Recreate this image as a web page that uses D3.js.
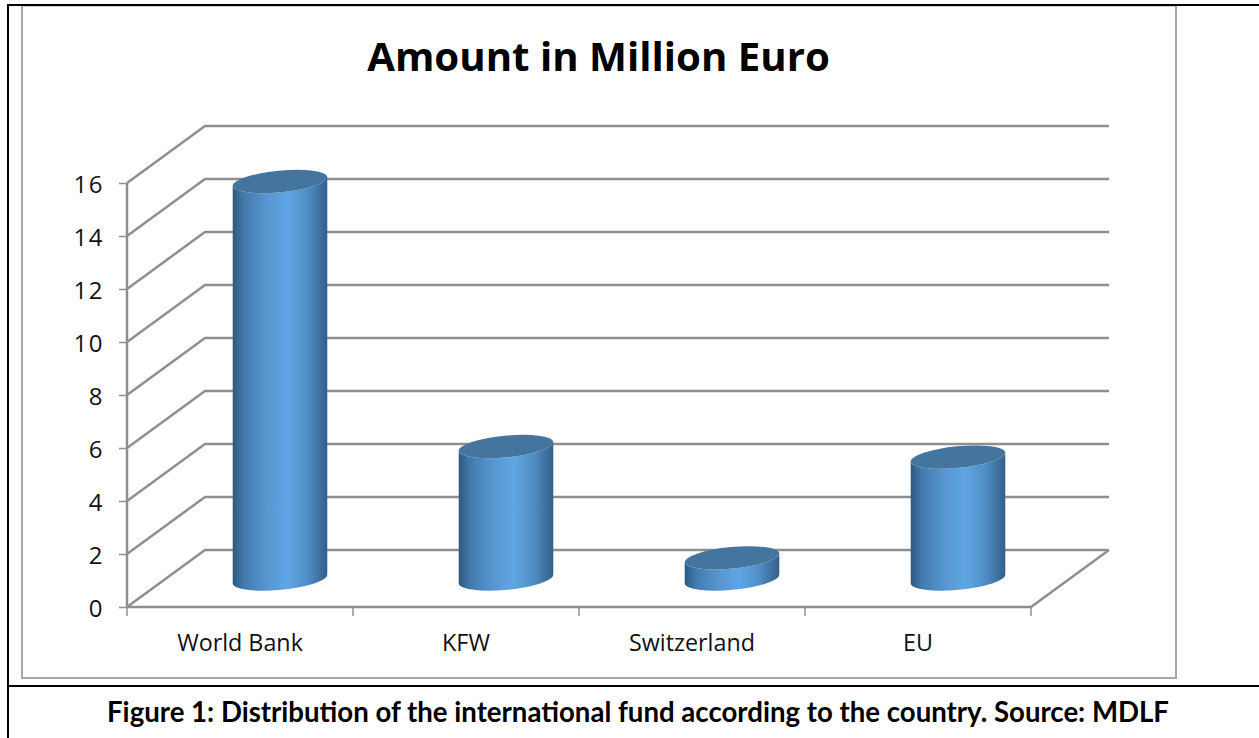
<!DOCTYPE html>
<html>
<head>
<meta charset="utf-8">
<script src="https://cdn.jsdelivr.net/npm/d3@7/dist/d3.min.js"></script>
<style>
html,body{margin:0;padding:0;background:#fff}
svg{display:block}
</style>
</head>
<body>
<svg id="chart" width="1259" height="738"></svg>
<script>
const categories = ["World Bank", "KFW", "Switzerland", "EU"];
const amounts = [15, 5, 0.8, 4.6];
const tickValues = [0, 2, 4, 6, 8, 10, 12, 14, 16];
const chartTitle = "Amount in Million Euro";
const caption = "Figure 1: Distribution of the international fund according to the country. Source: MDLF";

const svg = d3.select("#chart");
const y = d3.scaleLinear().domain([0, 16]).range([607, 183]);
const x = d3.scaleBand().domain(categories).range([127, 1031]);

// Oblique projection of the 3D box: the back wall sits up and to the right.
const depthX = 78, depthY = -57;
const gridColor = "#8f8f8f";

const defs = svg.append("defs");
const grad = defs.append("linearGradient").attr("id", "cyl").attr("x1", 0).attr("x2", 1).attr("y1", 0).attr("y2", 0);
[[0, "#2f5880"], [0.12, "#427bae"], [0.35, "#5795d0"], [0.58, "#5fa6e4"], [0.8, "#4f8cc4"], [1, "#335f87"]]
  .forEach(([o, c]) => grad.append("stop").attr("offset", o).attr("stop-color", c));

// Document table rules and the chart's frame
svg.append("rect").attr("x", 22).attr("y", 5.5).attr("width", 1154).attr("height", 672.5)
  .attr("fill", "#fff").attr("stroke", "#a6a6a6").attr("stroke-width", 2);
const rules = svg.append("g").attr("stroke", "#000").attr("stroke-width", 2);
rules.append("line").attr("x1", 8).attr("x2", 1259).attr("y1", 5).attr("y2", 5);
rules.append("line").attr("x1", 8).attr("x2", 8).attr("y1", 4).attr("y2", 738);
rules.append("line").attr("x1", 8).attr("x2", 1259).attr("y1", 686).attr("y2", 686);

// Gridlines: diagonal along the side wall, then straight across the back wall
const grid = svg.append("g").attr("fill", "none").attr("stroke", gridColor).attr("stroke-width", 2.5);
grid.selectAll("path").data(tickValues).join("path")
  .attr("d", d => d3.line()([[127, y(d)], [127 + depthX, y(d) + depthY], [1031 + depthX, y(d) + depthY]]));

// Floor edges
grid.append("path").attr("d", d3.line()([[127, y(0)], [1031, y(0)], [1031 + depthX, y(0) + depthY]]));

// Axes
const yAxis = svg.append("g").attr("transform", "translate(127,0)")
  .call(d3.axisLeft(y).tickValues(tickValues).tickSize(8).tickPadding(15));
const xAxis = svg.append("g").attr("transform", "translate(0,607)")
  .call(d3.axisBottom(x).tickSize(0).tickPadding(27));
xAxis.selectAll(".tick").attr("transform", d => `translate(${x(d) + x.bandwidth() / 2},0)`);
const xTicks = svg.append("g").attr("stroke", gridColor).attr("stroke-width", 1.5);
xTicks.selectAll("line").data(d3.range(categories.length + 1)).join("line")
  .attr("x1", i => 127 + i * x.bandwidth()).attr("x2", i => 127 + i * x.bandwidth())
  .attr("y1", 607).attr("y2", 616);
yAxis.select(".domain").attr("stroke", gridColor).attr("stroke-width", 2.5)
  .attr("d", `M127,${y(0)}V${y(16)}`).attr("transform", "translate(-127,0)");
xAxis.select(".domain").remove();
yAxis.selectAll(".tick line").attr("stroke", gridColor).attr("stroke-width", 1.5);
xAxis.selectAll("text").attr("fill", "#111").attr("font-family", "'Open Sans', sans-serif").attr("font-size", 23.3);
yAxis.selectAll("text").attr("fill", "#111").attr("font-family", "'Open Sans', sans-serif").attr("font-size", 24)
  .attr("letter-spacing", 1.5).attr("y", 2);

// Cylinders stand halfway into the depth of the box
const rx = 47.5, ry = 10.8, tilt = -5.5;
const rad = tilt * Math.PI / 180;
const tipX = rx * Math.cos(rad), tipY = rx * Math.sin(rad);
const cx = d => x(d) + x.bandwidth() / 2 + depthX / 2 + 1;
const baseY = 579;
const unit = y(0) - y(1);

const bars = svg.append("g").selectAll("g")
  .data(categories.map((c, i) => ({ c, v: amounts[i] }))).join("g")
  .attr("transform", d => `translate(${cx(d.c)},0)`);

bars.append("path").attr("fill", "url(#cyl)")
  .attr("d", d => {
    const top = baseY - d.v * unit;
    return `M${-tipX},${top - tipY}` +
      `L${-tipX},${baseY - tipY}` +
      `A${rx},${ry} ${tilt} 0 0 ${tipX},${baseY + tipY}` +
      `L${tipX},${top + tipY}` +
      `A${rx},${ry} ${tilt} 0 1 ${-tipX},${top - tipY}Z`;
  });
bars.append("ellipse").attr("fill", "#44759f")
  .attr("rx", rx).attr("ry", ry)
  .attr("transform", d => `translate(0,${baseY - d.v * unit}) rotate(${tilt})`);

// Titles
svg.append("text").attr("x", 598.5).attr("y", 71).attr("text-anchor", "middle")
  .attr("font-family", "'Open Sans', sans-serif").attr("font-weight", 700).attr("font-size", 40.2)
  .attr("fill", "#000").text(chartTitle);
svg.append("text").attr("x", 638).attr("y", 722).attr("text-anchor", "middle")
  .attr("font-family", "Lato, sans-serif").attr("font-weight", 700).attr("font-size", 27.6)
  .attr("fill", "#000").text(caption);
</script>
</body>
</html>
